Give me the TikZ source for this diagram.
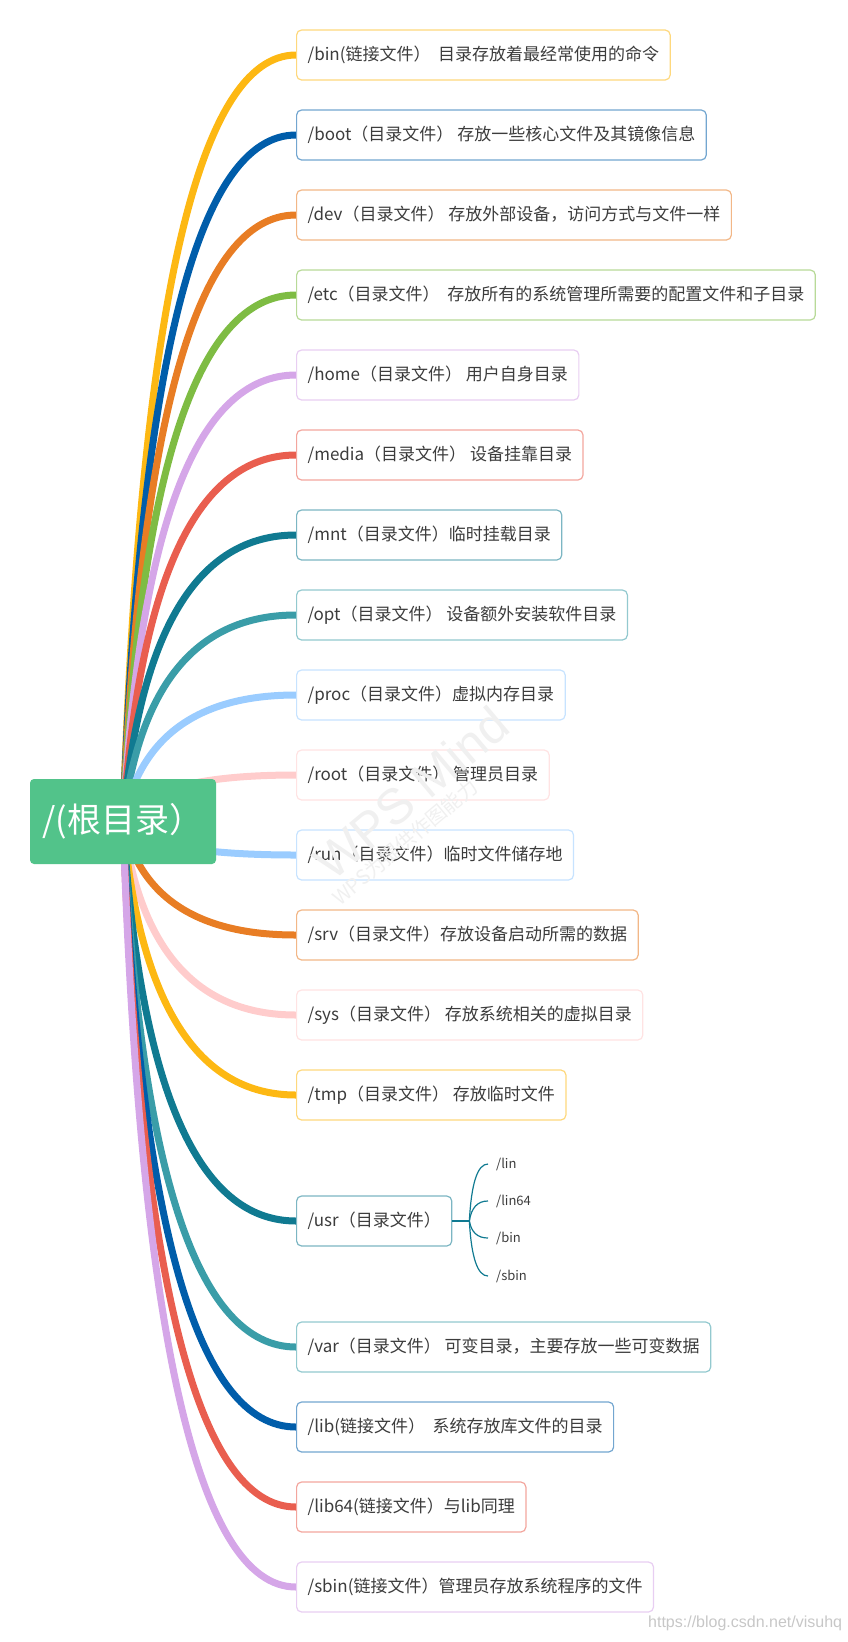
\documentclass[tikz,border=0pt]{standalone}
\usepackage{fontspec}
\setmainfont{Noto Sans CJK SC}
\newfontfamily\latinsans{Liberation Sans}
\usetikzlibrary{calc,backgrounds}

\definecolor{cyellow}{RGB}{253,184,19}
\definecolor{cblue}{RGB}{0,93,170}
\definecolor{corange}{RGB}{232,125,36}
\definecolor{cgreen}{RGB}{126,188,67}
\definecolor{clav}{RGB}{213,166,232}
\definecolor{cred}{RGB}{233,94,79}
\definecolor{cdteal}{RGB}{16,122,145}
\definecolor{cteal}{RGB}{58,157,168}
\definecolor{clblue}{RGB}{154,204,255}
\definecolor{cpink}{RGB}{255,204,204}
\definecolor{rootgreen}{RGB}{82,195,138}
\definecolor{textgray}{RGB}{60,60,60}

\tikzset{
  curvy/.style={to path={.. controls ($(\tikztostart)!2/3!(\tikztostart |- \tikztotarget)+(#1,0pt)$)
      and ($(\tikztotarget)!2/3!(\tikztostart |- \tikztotarget)+(#1,0pt)$) .. (\tikztotarget)}},
  curvy/.default=16.7pt,
  twig/.style={draw=#1, line width=7pt, curvy},
  sprig/.style={draw=cdteal, line width=1.2pt},
  leaf/.style={draw=#1!55!white, fill=white, line width=1.2pt, rounded corners=5pt,
      minimum height=50pt, inner xsep=11pt, anchor=west, text=textgray,
      font=\fontsize{17}{20}\selectfont},
  subleaf/.style={anchor=west, inner xsep=8pt, text=textgray, font=\fontsize{13}{16}\selectfont},
  rootbox/.style={fill=rootgreen, rounded corners=4pt, minimum width=186pt, minimum height=85pt,
      text=white, font=\fontsize{34}{40}\selectfont},
}

\begin{document}
\begin{tikzpicture}[x=1pt,y=-1pt]

        \useasboundingbox (0,0) rectangle (848,1642);

        \node[rootbox] (slash) at (123,821.5) {/(根目录）};

        \node[leaf=cyellow] (bin)   at (296,55)   {/bin(链接文件）\ \ 目录存放着最经常使用的命令};
        \node[leaf=cblue]   (boot)  at (296,135)  {/boot（目录文件） 存放一些核心文件及其镜像信息};
        \node[leaf=corange] (dev)   at (296,215)  {/dev（目录文件） 存放外部设备，访问方式与文件一样};
        \node[leaf=cgreen]  (etc)   at (296,295)  {/etc（目录文件）\ \ 存放所有的系统管理所需要的配置文件和子目录};
        \node[leaf=clav]    (home)  at (296,375)  {/home（目录文件） 用户自身目录};
        \node[leaf=cred]    (media) at (296,455)  {/media（目录文件） 设备挂靠目录};
        \node[leaf=cdteal]  (mnt)   at (296,535)  {/mnt（目录文件）临时挂载目录};
        \node[leaf=cteal]   (opt)   at (296,615)  {/opt（目录文件） 设备额外安装软件目录};
        \node[leaf=clblue]  (proc)  at (296,695)  {/proc（目录文件）虚拟内存目录};
        \node[leaf=cpink]   (root)  at (296,775)  {/root（目录文件） 管理员目录};
        \node[leaf=clblue]  (run)   at (296,855)  {/run（目录文件）临时文件储存地};
        \node[leaf=corange] (srv)   at (296,935)  {/srv（目录文件）存放设备启动所需的数据};
        \node[leaf=cpink]   (sys)   at (296,1015) {/sys（目录文件） 存放系统相关的虚拟目录};
        \node[leaf=cyellow] (tmp)   at (296,1095) {/tmp（目录文件） 存放临时文件};
        \node[leaf=cdteal]  (usr)   at (296,1221) {/usr（目录文件）};
        \node[leaf=cteal]   (var)   at (296,1347) {/var（目录文件） 可变目录，主要存放一些可变数据};
        \node[leaf=cblue]   (lib)   at (296,1427) {/lib(链接文件）\ \ 系统存放库文件的目录};
        \node[leaf=cred]    (lib64) at (296,1507) {/lib64(链接文件）与lib同理};
        \node[leaf=clav]    (sbin)  at (296,1587) {/sbin(链接文件）管理员存放系统程序的文件};

        \coordinate (usrj) at ([xshift=17pt]usr.east);
        \node[subleaf] (ulin)   at (488,1164) {/lin};
        \node[subleaf] (ulin64) at (488,1201) {/lin64};
        \node[subleaf] (ubin)   at (488,1238) {/bin};
        \node[subleaf] (usbin)  at (488,1276) {/sbin};

        \draw[sprig] (usr.east) -- (usrj);
        \draw[sprig] (usrj) to[curvy=2pt] (ulin.west);
        \draw[sprig] (usrj) to[curvy=2pt] (ulin64.west);
        \draw[sprig] (usrj) to[curvy=2pt] (ubin.west);
        \draw[sprig] (usrj) to[curvy=2pt] (usbin.west);

        \begin{scope}[on background layer]
        \draw[twig=cyellow] (slash.center) to (bin.west);
        \draw[twig=cblue]   (slash.center) to (boot.west);
        \draw[twig=corange] (slash.center) to (dev.west);
        \draw[twig=cgreen]  (slash.center) to (etc.west);
        \draw[twig=clav]    (slash.center) to (home.west);
        \draw[twig=cred]    (slash.center) to (media.west);
        \draw[twig=cdteal]  (slash.center) to (mnt.west);
        \draw[twig=cteal]   (slash.center) to (opt.west);
        \draw[twig=clblue]  (slash.center) to (proc.west);
        \draw[twig=cpink]   (slash.center) to (root.west);
        \draw[twig=clblue]  (slash.center) to (run.west);
        \draw[twig=corange] (slash.center) to (srv.west);
        \draw[twig=cpink]   (slash.center) to (sys.west);
        \draw[twig=cyellow] (slash.center) to (tmp.west);
        \draw[twig=cdteal]  (slash.center) to (usr.west);
        \draw[twig=cteal]   (slash.center) to (var.west);
        \draw[twig=cblue]   (slash.center) to (lib.west);
        \draw[twig=cred]    (slash.center) to (lib64.west);
        \draw[twig=clav]    (slash.center) to (sbin.west);
        \end{scope}

        \node[rotate=40, text=black!6, font=\latinsans\fontsize{50}{56}\selectfont] (wmark) at (411,793) {WPS Mind};
        \node[rotate=40, text=black!6, font=\fontsize{20}{24}\selectfont] (wsub) at (405,842) {WPS为提供作图能力};
        \node[anchor=west, inner sep=0pt, text=black!22, font=\latinsans\fontsize{16}{18}\selectfont] (csdn) at (648,1623) {https://blog.csdn.net/visuhq};

\end{tikzpicture}
\end{document}
